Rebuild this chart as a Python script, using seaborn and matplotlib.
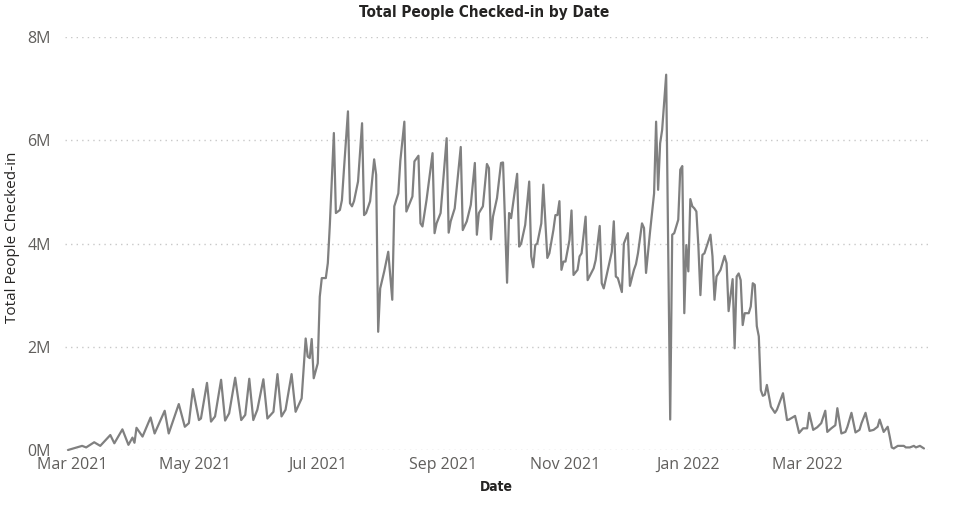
import matplotlib
matplotlib.use("Agg")
import matplotlib.pyplot as plt
import matplotlib.dates as mdates
import matplotlib.ticker as mticker
import pandas as pd
import seaborn as sns

# Days counted from 2021-03-01, values in millions of people checked in
START_DATE = pd.Timestamp("2021-03-01")

day_offset = [
    -2, 5, 7, 11, 14, 19, 21, 25, 28, 30, 31, 32, 35, 39, 41, 46, 48, 53, 56, 58,
    60, 63, 64, 67, 69, 71, 74, 76, 78, 81, 84, 86, 88, 90, 92, 95, 97, 100, 102, 104,
    106, 109, 111, 114, 116, 117, 118, 119, 120, 122, 123, 124, 126, 127, 128, 130, 131, 133, 134, 135,
    137, 138, 139, 140, 142, 144, 145, 146, 148, 150, 151, 152, 153, 155, 157, 159, 160, 162, 163, 165,
    166, 169, 170, 172, 173, 174, 176, 179, 180, 181, 183, 186, 187, 188, 190, 193, 194, 196, 198, 200,
    201, 202, 204, 206, 207, 208, 209, 211, 213, 214, 216, 217, 218, 219, 221, 222, 223, 225, 227, 228,
    229, 230, 231, 233, 234, 236, 237, 239, 240, 241, 242, 243, 244, 245, 247, 248, 249, 251, 252, 253,
    255, 256, 259, 260, 262, 263, 264, 266, 268, 269, 270, 271, 273, 274, 276, 277, 279, 280, 281, 283,
    284, 285, 286, 287, 289, 290, 291, 292, 293, 295, 297, 298, 299, 301, 302, 303, 304, 305, 306, 307,
    308, 309, 310, 311, 312, 313, 314, 317, 318, 319, 320, 322, 324, 325, 326, 328, 329, 330, 331, 332,
    333, 334, 336, 337, 338, 339, 340, 341, 342, 343, 344, 345, 347, 349, 350, 353, 355, 356, 359, 361,
    363, 365, 366, 368, 370, 372, 374, 375, 377, 379, 380, 382, 384, 385, 387, 389, 391, 392, 394, 396,
    398, 400, 401, 403, 405, 406, 407, 408, 410, 413, 414, 416, 418, 419, 421, 423,
]

checked_in_m = [
    0.00, 0.08, 0.05, 0.15, 0.08, 0.29, 0.13, 0.40, 0.10, 0.24, 0.14, 0.43, 0.26, 0.63, 0.32, 0.76, 0.32, 0.89, 0.45, 0.52,
    1.18, 0.58, 0.61, 1.30, 0.55, 0.65, 1.36, 0.57, 0.71, 1.40, 0.58, 0.68, 1.38, 0.58, 0.78, 1.37, 0.61, 0.74, 1.47, 0.65,
    0.78, 1.47, 0.74, 1.00, 2.16, 1.81, 1.78, 2.15, 1.39, 1.68, 2.97, 3.33, 3.33, 3.62, 4.36, 6.14, 4.59, 4.65, 4.84, 5.43,
    6.56, 4.78, 4.72, 4.82, 5.20, 6.33, 4.55, 4.59, 4.82, 5.63, 5.33, 2.29, 3.13, 3.46, 3.84, 2.91, 4.72, 4.97, 5.60, 6.36,
    4.62, 4.91, 5.59, 5.70, 4.39, 4.33, 4.84, 5.75, 4.20, 4.39, 4.59, 6.04, 4.21, 4.43, 4.68, 5.87, 4.26, 4.43, 4.75, 5.56,
    4.17, 4.59, 4.72, 5.54, 5.46, 4.08, 4.52, 4.88, 5.56, 5.57, 3.24, 4.59, 4.49, 4.78, 5.35, 3.94, 4.00, 4.36, 5.20, 3.75,
    3.54, 3.97, 4.00, 4.39, 5.14, 3.72, 3.81, 4.26, 4.55, 4.55, 4.82, 3.49, 3.65, 3.65, 4.07, 4.64, 3.39, 3.49, 3.75, 3.81,
    4.52, 3.29, 3.52, 3.68, 4.34, 3.23, 3.13, 3.49, 3.84, 4.43, 3.36, 3.33, 3.06, 4.00, 4.20, 3.18, 3.49, 3.60, 3.81, 4.39,
    4.30, 3.43, 3.84, 4.23, 4.97, 6.36, 5.04, 5.94, 6.20, 7.27, 0.59, 4.17, 4.20, 4.46, 5.43, 5.50, 2.65, 3.97, 3.46, 4.86,
    4.72, 4.68, 4.62, 3.94, 3.00, 3.78, 3.81, 4.17, 3.75, 2.91, 3.36, 3.49, 3.76, 3.62, 2.69, 3.31, 1.97, 3.36, 3.42, 3.29,
    2.42, 2.65, 2.65, 2.78, 3.23, 3.20, 2.40, 2.20, 1.16, 1.05, 1.07, 1.26, 0.84, 0.72, 0.78, 1.10, 0.58, 0.59, 0.66, 0.33,
    0.42, 0.42, 0.72, 0.39, 0.44, 0.52, 0.76, 0.35, 0.42, 0.48, 0.81, 0.32, 0.35, 0.45, 0.72, 0.34, 0.39, 0.52, 0.72, 0.37,
    0.39, 0.45, 0.59, 0.35, 0.45, 0.26, 0.05, 0.03, 0.08, 0.08, 0.05, 0.05, 0.08, 0.05, 0.08, 0.03,
]

tick_months = ["2021-03-01", "2021-05-01", "2021-07-01", "2021-09-01",
               "2021-11-01", "2022-01-01", "2022-03-01"]
y_ticks_m = [0, 2, 4, 6, 8]

LINE_COLOR = "#808080"
TICK_COLOR = "#605E5C"
TITLE_COLOR = "#252423"

df = pd.DataFrame({
    "Date": START_DATE + pd.to_timedelta(day_offset, unit="D"),
    "Total People Checked-in": [v * 1e6 for v in checked_in_m],
})

sns.set_style("white")
plt.rcParams["font.family"] = ["Open Sans", "DejaVu Sans"]

W, H = 954, 514
fig = plt.figure(figsize=(W / 100, H / 100), dpi=100)
ax = fig.add_axes([65 / W, 1 - 450 / H, (930 - 65) / W, (450 - 37) / H])

sns.lineplot(data=df, x="Date", y="Total People Checked-in", ax=ax,
             color=LINE_COLOR, linewidth=1.6, clip_on=False)

# axis limits
ax.set_xlim(START_DATE + pd.Timedelta(days=-3.5), START_DATE + pd.Timedelta(days=426))
ax.set_ylim(0, 8e6)

# ticks
ax.set_xticks(pd.to_datetime(tick_months))
ax.xaxis.set_major_formatter(mdates.DateFormatter("%b %Y"))
ax.set_yticks([v * 1e6 for v in y_ticks_m])
ax.yaxis.set_major_formatter(mticker.FuncFormatter(lambda v, p: f"{v / 1e6:.0f}M"))
ax.tick_params(axis="x", length=0, pad=5, labelsize=11.5, labelcolor=TICK_COLOR)
ax.tick_params(axis="y", length=0, pad=10, labelsize=11.5, labelcolor=TICK_COLOR)

# dotted horizontal gridlines, no spines
ax.grid(axis="y", color="#C8C8C8", linestyle=(0, (1, 3)), linewidth=1)
ax.grid(axis="x", visible=False)
for s in ax.spines.values():
    s.set_visible(False)

ax.set_xlabel("")
ax.set_ylabel("")

# labels and title
fig.text(496 / W, 1 - 487 / H, "Date", ha="center", va="center",
         fontsize=10, fontweight="bold", color=TITLE_COLOR,
         family=["DejaVu Sans"], fontstretch="condensed")
fig.text(13 / W, 1 - 237 / H, "Total People Checked-in", ha="center", va="center",
         rotation=90, fontsize=11, color=TITLE_COLOR)
fig.text(484 / W, 1 - 12 / H, "Total People Checked-in by Date", ha="center", va="center",
         fontsize=11, fontweight="bold", color=TITLE_COLOR,
         family=["DejaVu Sans"], fontstretch="condensed")

plt.savefig("out.png", dpi=100)
